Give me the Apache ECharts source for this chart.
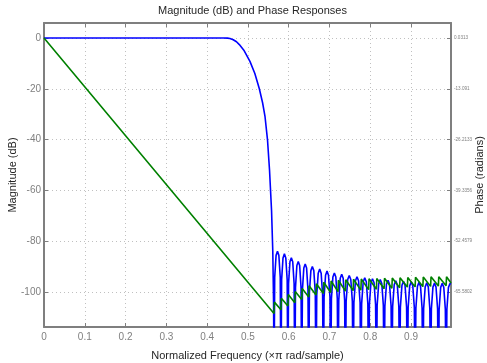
<!DOCTYPE html>
<html><head><meta charset="utf-8">
<script src="https://cdn.jsdelivr.net/npm/echarts@6/dist/echarts.min.js"></script>
<style>html,body{margin:0;padding:0;background:#fff}#c{width:487px;height:363px}</style>
</head><body><div id="c"></div>
<script>
// ---- data ----
const titleText = 'Magnitude (dB) and Phase Responses';
const xName = 'Normalized Frequency (\u00d7\u03c0 rad/sample)';
const leftName = 'Magnitude (dB)';
const rightName = 'Phase (radians)';
const freqRange = [0, 0.998];
const magRange = [-113.8, 5.9];
const magTickValues = [0, -20, -40, -60, -80, -100];
const phaseTickLabels = ['0.0313', '-13.091', '-26.2133', '-39.3356', '-52.4579', '-65.5802'];

// magnitude response (dB) [normalized frequency, dB]; zeros drawn below the axis floor
const magnitudeDB = [
  [0,0],[0.44,0],[0.45,-0.05],[0.456,-0.2],[0.464,-0.7],[0.472,-1.5],[0.479,-2.6],[0.49,-4.8],
  [0.505,-9.2],[0.517,-14],[0.528,-20],[0.536,-25.5],[0.542,-31],[0.548,-40],[0.553,-52],
  [0.558,-68],[0.561,-84],[0.563,-105],[0.564,-140],
  [0.5657,-94.2],[0.5691,-85.6],[0.5725,-84],[0.5759,-85.6],[0.5793,-94.2],[0.581,-140],
  [0.5827,-95.2],[0.5861,-86.6],[0.5895,-85],[0.5929,-86.6],[0.5963,-95.2],[0.598,-140],
  [0.5997,-96.7],[0.6031,-88.1],[0.6065,-86.5],[0.6099,-88.1],[0.6133,-96.7],[0.615,-140],
  [0.6167,-98.2],[0.6201,-89.6],[0.6235,-88],[0.6269,-89.6],[0.6303,-98.2],[0.632,-140],
  [0.6337,-99.2],[0.6371,-90.6],[0.6405,-89],[0.6439,-90.6],[0.6473,-99.2],[0.649,-140],
  [0.6508,-100.2],[0.6544,-91.6],[0.658,-90],[0.6616,-91.6],[0.6652,-100.2],[0.667,-140],
  [0.6688,-101.2],[0.6724,-92.6],[0.676,-91],[0.6796,-92.6],[0.6832,-101.2],[0.685,-140],
  [0.6868,-102],[0.6904,-93.4],[0.694,-91.8],[0.6976,-93.4],[0.7012,-102],[0.703,-140],
  [0.7048,-102.7],[0.7084,-94.1],[0.712,-92.5],[0.7156,-94.1],[0.7192,-102.7],[0.721,-140],
  [0.7228,-103.2],[0.7264,-94.6],[0.73,-93],[0.7336,-94.6],[0.7372,-103.2],[0.739,-140],
  [0.7409,-103.7],[0.7447,-95.1],[0.7485,-93.5],[0.7523,-95.1],[0.7561,-103.7],[0.758,-140],
  [0.7599,-104.2],[0.7637,-95.6],[0.7675,-94],[0.7713,-95.6],[0.7751,-104.2],[0.777,-140],
  [0.7789,-104.6],[0.7827,-96],[0.7865,-94.4],[0.7903,-96],[0.7941,-104.6],[0.796,-140],
  [0.7979,-105],[0.8017,-96.4],[0.8055,-94.8],[0.8093,-96.4],[0.8131,-105],[0.815,-140],
  [0.8169,-105.3],[0.8207,-96.7],[0.8245,-95.1],[0.8283,-96.7],[0.8321,-105.3],[0.834,-140],
  [0.8359,-105.6],[0.8397,-97],[0.8435,-95.4],[0.8473,-97],[0.8511,-105.6],[0.853,-140],
  [0.8549,-105.8],[0.8587,-97.2],[0.8625,-95.6],[0.8663,-97.2],[0.8701,-105.8],[0.872,-140],
  [0.8739,-106],[0.8777,-97.4],[0.8815,-95.8],[0.8853,-97.4],[0.8891,-106],[0.891,-140],
  [0.8929,-106.2],[0.8967,-97.6],[0.9005,-96],[0.9043,-97.6],[0.9081,-106.2],[0.91,-140],
  [0.9119,-106.4],[0.9157,-97.8],[0.9195,-96.2],[0.9233,-97.8],[0.9271,-106.4],[0.929,-140],
  [0.9309,-106.6],[0.9347,-98],[0.9385,-96.4],[0.9423,-98],[0.9461,-106.6],[0.948,-140],
  [0.9499,-106.7],[0.9537,-98.1],[0.9575,-96.5],[0.9613,-98.1],[0.9651,-106.7],[0.967,-140],
  [0.9689,-106.8],[0.9727,-98.2],[0.9765,-96.6],[0.9803,-98.2],[0.9841,-106.8],[0.986,-140],
  [0.9879,-106.9],[0.9917,-98.3],[0.9955,-96.7],[0.998,-96.9]
];

// phase response (radians) [normalized frequency, rad]
const phaseRad = [
  [0,0],[0.564,-71.16],
  [0.565,-68.21],[0.581,-70.17],[0.582,-67.22],[0.598,-69.19],[0.599,-66.24],
  [0.615,-68.34],[0.616,-65.45],[0.632,-67.55],[0.633,-64.66],[0.649,-66.89],[0.65,-64.0],
  [0.667,-66.37],[0.668,-63.48],[0.685,-65.97],[0.686,-63.09],[0.703,-65.71],[0.704,-62.76],
  [0.721,-65.51],[0.722,-62.56],[0.739,-65.38],[0.74,-62.43],[0.758,-65.25],[0.759,-62.3],
  [0.777,-65.12],[0.778,-62.23],[0.796,-64.99],[0.797,-62.17],[0.815,-64.86],[0.816,-62.1],
  [0.834,-64.73],[0.835,-62.04],[0.853,-64.6],[0.854,-61.97],[0.872,-64.47],[0.873,-61.91],
  [0.891,-64.33],[0.892,-61.84],[0.91,-64.27],[0.911,-61.77],[0.929,-64.2],[0.93,-61.71],
  [0.948,-64.14],[0.949,-61.64],[0.967,-64.07],[0.968,-61.64],[0.986,-64.0],[0.987,-61.64],
  [0.998,-63.28]
];

// ---- derived axis mapping (right axis shares the left axis' pixel scale) ----
const phaseTickValues = phaseTickLabels.map(Number);
const slope = (phaseTickValues[phaseTickValues.length-1] - phaseTickValues[0]) /
              (magTickValues[magTickValues.length-1] - magTickValues[0]);
const phaseRange = [
  phaseTickValues[0] + slope * (magRange[0] - magTickValues[0]),
  phaseTickValues[0] + slope * (magRange[1] - magTickValues[0])
];

const FONT = 'Liberation Sans, Arial, sans-serif';
const AX = '#7f7f7f';
const chart = echarts.init(document.getElementById('c'), null, {renderer: 'canvas'});
chart.setOption({
  animation: false,
  backgroundColor: '#fff',
  title: {
    text: titleText, left: 247.5, top: 0, textAlign: 'center',
    textStyle: {fontFamily: FONT, fontSize: 11, fontWeight: 'normal', color: '#262626'}
  },
  grid: {left: 44, right: 36, top: 23, bottom: 36, containLabel: false, outerBoundsMode: 'none'},
  xAxis: [{
    type: 'value', min: freqRange[0], max: freqRange[1], interval: 0.1,
    name: xName, nameLocation: 'middle', nameGap: 23, nameMoveOverlap: false,
    nameTextStyle: {fontFamily: FONT, fontSize: 11, color: '#262626'},
    axisLine: {show: true, onZero: false, lineStyle: {color: AX, width: 2}},
    axisTick: {show: true, inside: true, length: 4, lineStyle: {color: AX}},
    axisLabel: {fontFamily: FONT, fontSize: 10, color: '#808080', margin: 5, showMaxLabel: false,
      formatter: v => v === 0 ? '0' : v.toFixed(1)},
    splitLine: {show: true, lineStyle: {type: [1, 3], color: '#c0c0c0', width: 1}}
  }, {
    type: 'value', position: 'top', min: freqRange[0], max: freqRange[1], interval: 0.1,
    axisLine: {show: true, onZero: false, lineStyle: {color: AX, width: 2}},
    axisTick: {show: true, inside: true, length: 4, lineStyle: {color: AX}},
    axisLabel: {show: false}, splitLine: {show: false}
  }],
  yAxis: [{
    type: 'value', min: magRange[0], max: magRange[1], splitNumber: 6,
    name: leftName, nameLocation: 'middle', nameGap: 26, nameRotate: 90, nameMoveOverlap: false,
    nameTextStyle: {fontFamily: FONT, fontSize: 11, color: '#262626'},
    axisLine: {show: true, onZero: false, lineStyle: {color: AX, width: 2}},
    axisTick: {show: true, inside: true, length: 4, lineStyle: {color: AX}},
    axisLabel: {fontFamily: FONT, fontSize: 10, color: '#808080', margin: 3,
      showMinLabel: false, showMaxLabel: false},
    splitLine: {show: true, lineStyle: {type: [1, 3], color: '#c0c0c0', width: 1}}
  }, {
    type: 'value', position: 'right', min: phaseRange[0], max: phaseRange[1], alignTicks: false,
    name: rightName, nameLocation: 'middle', nameGap: 23, nameRotate: 90, nameMoveOverlap: false,
    nameTextStyle: {fontFamily: FONT, fontSize: 11, color: '#262626'},
    axisLine: {show: true, onZero: false, lineStyle: {color: AX, width: 2}},
    axisTick: {show: true, inside: true, length: 4, lineStyle: {color: AX}, customValues: phaseTickValues},
    axisLabel: {fontFamily: FONT, fontSize: 4.6, color: '#808080', margin: 3,
      customValues: phaseTickValues,
      formatter: v => {
        const i = phaseTickValues.findIndex(p => Math.abs(p - v) < 1e-6);
        return i >= 0 ? phaseTickLabels[i] : '';
      }},
    splitLine: {show: false}
  }],
  series: [{
    type: 'line', name: 'Magnitude', xAxisIndex: 0, yAxisIndex: 0, data: magnitudeDB,
    showSymbol: false, clip: true, lineStyle: {color: '#0000ff', width: 1.6}, z: 3
  }, {
    type: 'line', name: 'Phase', xAxisIndex: 0, yAxisIndex: 1, data: phaseRad,
    showSymbol: false, clip: true, lineStyle: {color: '#008000', width: 1.6}, z: 4
  }]
});
</script></body></html>
